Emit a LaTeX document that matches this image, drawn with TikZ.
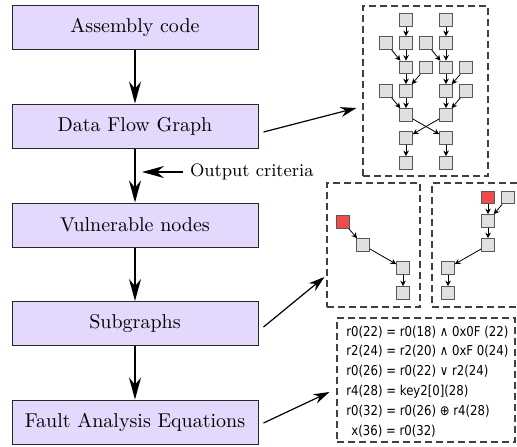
\documentclass[tikz,border=0pt]{standalone}
\usepackage{fontspec}
\newfontfamily\eqfont[FakeStretch=0.86]{DejaVu Sans}
\usepackage{xcolor}
\definecolor{stagefill}{RGB}{228,216,252}
\definecolor{hotred}{RGB}{240,76,76}
\usetikzlibrary{arrows.meta,positioning,calc}

\begin{document}
\begin{tikzpicture}[x=0.5pt, y=-0.5pt,
    stage/.style={rectangle, draw=black!85, line width=0.5pt, fill=stagefill, minimum width=123pt, minimum height=22pt},
    flow/.style={-{Stealth[length=11pt, width=6pt]}, line width=0.8pt},
    pointer/.style={-{Stealth[length=8pt, width=5pt]}, line width=0.6pt},
    frame/.style={rectangle, draw=black!75, line width=0.6pt, dash pattern=on 3.5pt off 2pt},
    vx/.style={rectangle, draw=black!65, line width=0.5pt, fill=black!12, minimum size=6.3pt, inner sep=0pt},
    hot/.style={vx, fill=hotred},
    link/.style={-{Stealth[length=2.8pt, width=2.8pt]}, line width=0.4pt},
    eqline/.style={anchor=base west, inner sep=0pt, font=\eqfont\fontsize{6.8}{8}\selectfont}]
    \useasboundingbox (0,0) rectangle (517,446);

    \node[stage] (asm) at (135,27.5) {Assembly code};
    \node[stage] (dfg) at (135,126) {Data Flow Graph};
    \node[stage] (vuln) at (135,225) {Vulnerable nodes};
    \node[stage] (sub) at (135,323.5) {Subgraphs};
    \node[stage] (fae) at (135,422) {Fault Analysis Equations};
    \draw[flow] (asm) -- (dfg);
    \draw[flow] (dfg) -- (vuln);
    \draw[flow] (vuln) -- (sub);
    \draw[flow] (sub) -- (fae);

    \node[right, font=\small] (crit) at (183,172) {Output criteria};
    \coordinate (critend) at (142,172);
    \draw[flow] (crit.west) -- (critend);

    \node[frame, minimum width=62.5pt, minimum height=85pt] (dfgview) at (425.5,91) {};
    \foreach \n/\px/\py in {g1/406/20, g2/446/20, g3/386/43, g4/406/43, g5/426/43, g6/446/43,
        g7/406/67.5, g8/426/67.5, g9/446/67.5, g10/466/67.5, g11/386/91, g12/406/91, g13/446/91,
        g14/466/91, g15/406/115, g16/446/115, g17/406/138, g18/446/138, g19/406/163, g20/446/163}
        \node[vx] (\n) at (\px,\py) {};
    \foreach \s/\t in {g1/g4, g2/g6, g3/g7, g4/g7, g5/g9, g6/g9, g7/g12, g8/g12, g9/g13, g10/g13,
        g11/g15, g12/g15, g13/g16, g14/g16, g15/g18, g16/g17, g17/g19, g18/g20}
        \draw[link] (\s) -- (\t);

    \node[frame, minimum width=46.5pt, minimum height=62pt] (subleft) at (373.5,245) {};
    \node[frame, minimum width=48pt, minimum height=62pt] (subright) at (480,245) {};
    \node[hot] (s1) at (343,222) {};
    \node[vx] (s2) at (363,245) {};
    \node[vx] (s3) at (403,268) {};
    \node[vx] (s4) at (403,293) {};
    \draw[link] (s1) -- (s2);
    \draw[link] (s2) -- (s3);
    \draw[link] (s3) -- (s4);
    \node[hot] (u1) at (488,197.5) {};
    \node[vx] (u2) at (508,197.5) {};
    \node[vx] (u3) at (488,221) {};
    \node[vx] (u4) at (488,245) {};
    \node[vx] (u5) at (448,268) {};
    \node[vx] (u6) at (448,293) {};
    \draw[link] (u1) -- (u3);
    \draw[link] (u2) -- (u3);
    \draw[link] (u3) -- (u4);
    \draw[link] (u4) -- (u5);
    \draw[link] (u5) -- (u6);

    \node[frame, minimum width=89pt, minimum height=62pt] (eqview) at (426,380) {};
    \foreach \eq [count=\i] in {{r0(22) = r0(18) ∧ 0x0F (22)}, {r2(24) = r2(20) ∧ 0xF 0(24)},
        {r0(26) = r0(22) ∨ r2(24)}, {r4(28) = key2[0](28)}, {r0(32) = r0(26) ⊕ r4(28)},
        {\hspace*{2.5pt}x(36) = r0(32)}}
        \node[eqline] (eq\i) at (346,{336+19.8*(\i-1)}) {\eq};

    \draw[pointer] ($(dfg.east)+(5,6)$) -- ($(dfgview.west)+(-6,17)$);
    \draw[pointer] ($(sub.east)+(5,3.5)$) -- ($(subleft.west)+(-2,32)$);
    \draw[pointer] ($(fae.east)+(5,1)$) -- ($(eqview.west)+(-7,12)$);
\end{tikzpicture}
\end{document}
